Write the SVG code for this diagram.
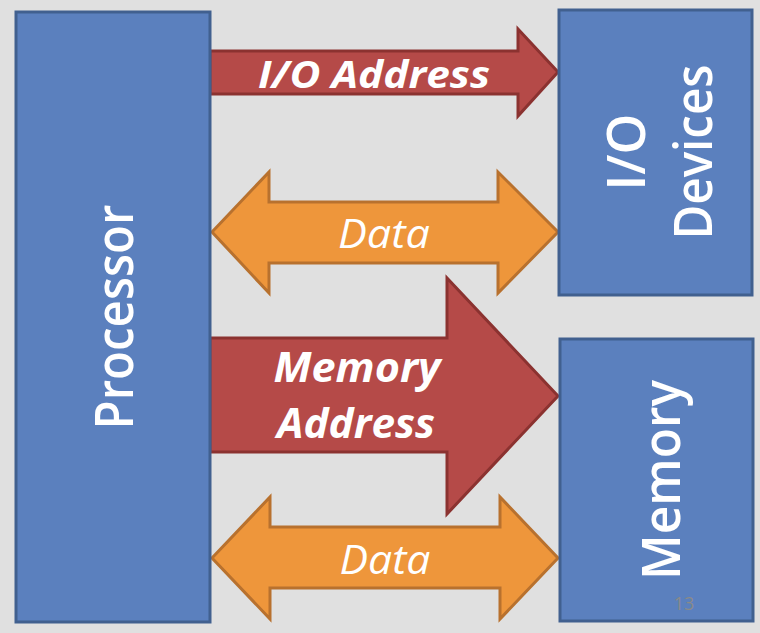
<svg xmlns="http://www.w3.org/2000/svg" width="760" height="633" viewBox="0 0 760 633">
<style>
.box{fill:#5b80be;stroke:#41608f;stroke-width:3}
.red{fill:#b54a48;stroke:#8b3230;stroke-width:3;stroke-linejoin:miter}
.org{fill:#ee963b;stroke:#b8712e;stroke-width:3;stroke-linejoin:miter}
.lbl{font-family:"Open Sans","Noto Sans",sans-serif;fill:#fff;text-anchor:middle}
.v{font-weight:600}
.bi{font-weight:bold;font-style:italic}
.it{font-style:italic}
.pg{font-family:"Open Sans","Noto Sans",sans-serif;fill:#8a8a8a;font-size:18px;text-anchor:middle}
</style>
<rect width="760" height="633" fill="#e0e0e0"/>
<g id="connectors">
<g id="io-address">
<polygon class="red" points="210,51 518,51 518,29 558,72 518,116 518,94 210,94"/>
<text class="lbl bi" x="374" y="88" font-size="38" textLength="232" lengthAdjust="spacingAndGlyphs">I/O Address</text>
</g>
<g id="io-data">
<polygon class="org" points="212,232 269,172 269,202 498,202 498,172 558,232 498,293 498,263 269,263 269,293"/>
<text class="lbl it" x="384" y="248" font-size="40" textLength="92" lengthAdjust="spacingAndGlyphs">Data</text>
</g>
<g id="mem-address">
<polygon class="red" points="210,338 447,338 447,278 558,396 447,514 447,452 210,452"/>
<text class="lbl bi" x="357" y="382" font-size="42" textLength="167" lengthAdjust="spacingAndGlyphs">Memory</text>
<text class="lbl bi" x="356" y="438" font-size="42" textLength="158" lengthAdjust="spacingAndGlyphs">Address</text>
</g>
<g id="mem-data">
<polygon class="org" points="212,558 270,497 270,527 500,527 500,497 558,558 500,619 500,588 270,588 270,619"/>
<text class="lbl it" x="385" y="574" font-size="40" textLength="91" lengthAdjust="spacingAndGlyphs">Data</text>
</g>
</g>
<g id="processor">
<rect class="box" x="16" y="12" width="194" height="610"/>
<text class="lbl v" transform="translate(133,317) rotate(-90)" font-size="52" textLength="225" lengthAdjust="spacingAndGlyphs">Processor</text>
</g>
<g id="io-devices">
<rect class="box" x="559" y="10" width="193" height="285"/>
<text class="lbl v" transform="translate(645,152) rotate(-90)" font-size="52">I/O</text>
<text class="lbl v" transform="translate(712,152) rotate(-90)" font-size="52" textLength="175" lengthAdjust="spacingAndGlyphs">Devices</text>
</g>
<g id="memory">
<rect class="box" x="560" y="339" width="193" height="282"/>
<text class="lbl v" transform="translate(680,480) rotate(-90)" font-size="52" textLength="200" lengthAdjust="spacingAndGlyphs">Memory</text>
<text class="pg" x="684" y="610">13</text>
</g>
</svg>
